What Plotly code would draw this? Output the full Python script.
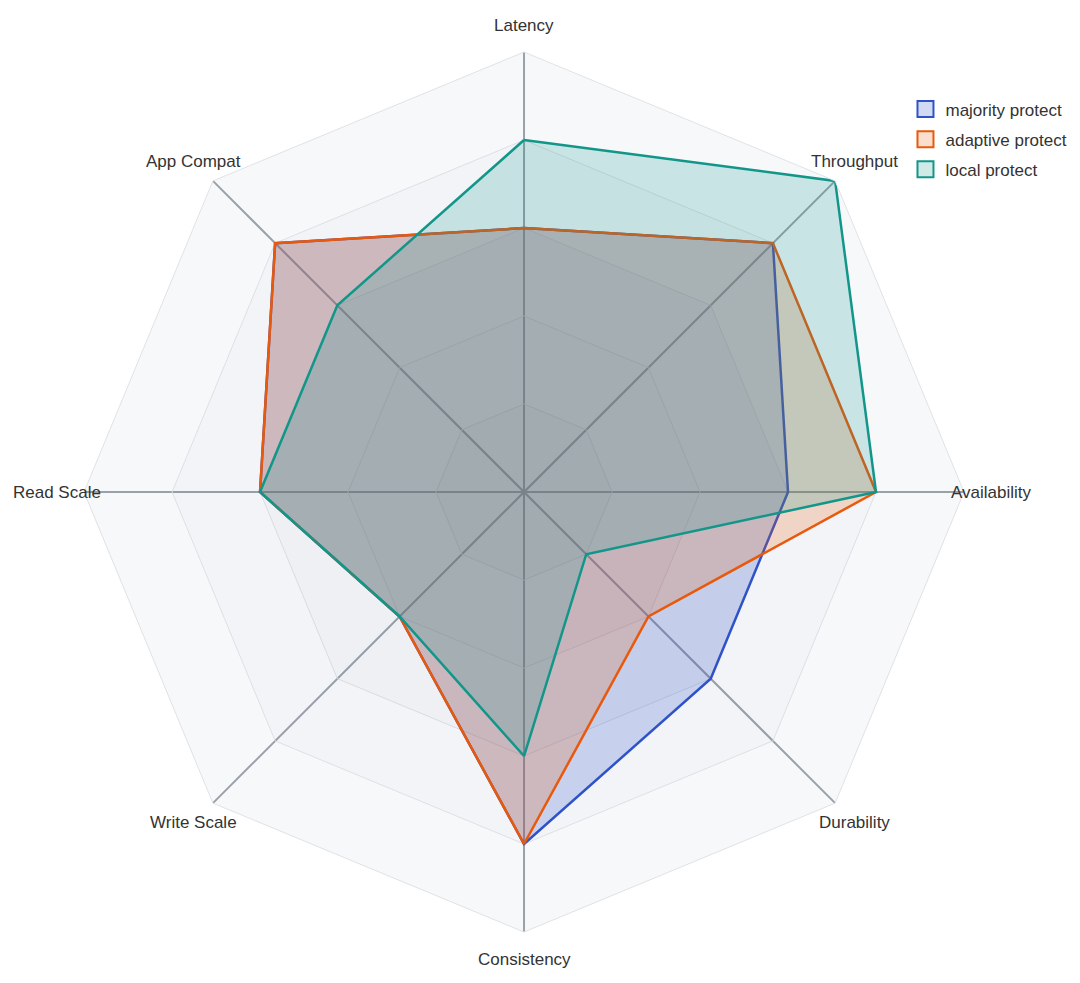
import math
import plotly.graph_objects as go

categories = ["Latency", "Throughput", "Availability", "Durability",
              "Consistency", "Write Scale", "Read Scale", "App Compat"]
majority = [3, 4, 3, 3, 4, 2, 3, 4]
adaptive = [3, 4, 4, 2, 4, 2, 3, 4]
local = [4, 5, 4, 1, 3, 2, 3, 3]
levels = [4, 3, 2, 1]
r_max = 5

series = [
    ("majority protect", majority, "#2f52c9", "rgba(47,82,201,0.22)"),
    ("adaptive protect", adaptive, "#e8590c", "rgba(232,89,12,0.20)"),
    ("local protect", local, "#12968a", "rgba(18,150,138,0.20)"),
]

W, H = 1080, 983
dom_x = [0.0704, 0.8852]
dom_y = [0.0600, 0.9552]

fig = go.Figure()

# shaded rings, darker toward the centre
for lv in levels:
    fig.add_trace(go.Scatterpolar(
        r=[lv] * (len(categories) + 1), theta=categories + categories[:1],
        mode="lines", line=dict(width=0), fill="toself",
        fillcolor="rgba(60,70,90,0.018)", hoverinfo="skip", showlegend=False
    ))

for name, vals, color, fillc in series:
    fig.add_trace(go.Scatterpolar(
        r=vals + vals[:1], theta=categories + categories[:1],
        mode="lines", name=name, legendgroup=name, showlegend=False,
        fill="toself", fillcolor=fillc,
        line=dict(color=color, width=2.5)
    ))
    # square legend swatch
    fig.add_trace(go.Scatterpolar(
        r=[None], theta=[categories[0]], mode="markers", name=name,
        legendgroup=name,
        marker=dict(symbol="square", size=16, color=fillc,
                    line=dict(color=color, width=2))
    ))

# axis names centred a little outside the outer ring
cx = (dom_x[0] + dom_x[1]) / 2
cy = (dom_y[0] + dom_y[1]) / 2
radius_px = min((dom_x[1] - dom_x[0]) * W, (dom_y[1] - dom_y[0]) * H) / 2
label_px = radius_px + 27
for i, cat in enumerate(categories):
    ang = 2 * math.pi * i / len(categories)
    fig.add_annotation(
        x=cx + label_px * math.sin(ang) / W, y=cy + label_px * math.cos(ang) / H,
        xref="paper", yref="paper", text=cat, showarrow=False,
        xanchor="center", yanchor="middle",
        font=dict(size=17, color="#333333")
    )

fig.update_layout(
    width=W, height=H,
    margin=dict(l=0, r=0, t=0, b=0),
    paper_bgcolor="white",
    font=dict(family="Liberation Sans, Arial, sans-serif", size=17, color="#333333"),
    polar=dict(
        domain=dict(x=dom_x, y=dom_y),
        gridshape="linear",
        bgcolor="#f7f8fa",
        radialaxis=dict(range=[0, r_max], dtick=1, showticklabels=False, ticks="",
                        showline=False, gridcolor="#dfe2e7", gridwidth=1),
        angularaxis=dict(direction="clockwise", rotation=90,
                         gridcolor="#9aa1a8", gridwidth=2,
                         linecolor="#dfe2e7", linewidth=1, ticks="",
                         showticklabels=False),
    ),
    legend=dict(x=0.831, y=0.915, xanchor="left", yanchor="top",
                font=dict(size=17, color="#333333"), bgcolor="rgba(0,0,0,0)",
                tracegroupgap=5),
)

fig.write_html("out.html")
